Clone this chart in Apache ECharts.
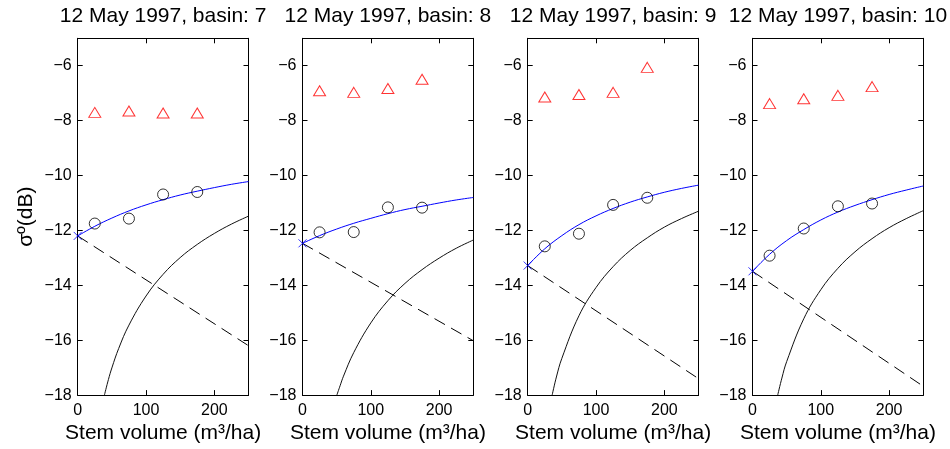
<!DOCTYPE html>
<html>
<head>
<meta charset="utf-8">
<script src="https://cdn.jsdelivr.net/npm/echarts@6/dist/echarts.min.js"></script>
<style>
html,body{margin:0;padding:0;background:#fff;}
#chart{width:950px;height:449px;}
</style>
</head>
<body>
<div id="chart"></div>
<script>
// ---- data ----
const basins = ['7', '8', '9', '10'];
const stemVolume = [25, 75, 125, 175];

// red triangles (upper observations)
const tri7 = [-7.70, -7.65, -7.72, -7.72];
const tri8 = [-6.91, -6.97, -6.83, -6.49];
const tri9 = [-7.14, -7.05, -6.97, -6.06];
const tri10 = [-7.38, -7.20, -7.08, -6.76];

// black circles (observations)
const circ7 = [-11.75, -11.57, -10.69, -10.60];
const circ8 = [-12.07, -12.06, -11.16, -11.17];
const circ9 = [-12.58, -12.12, -11.07, -10.81];
const circ10 = [-12.92, -11.93, -11.12, -11.02];

// blue fitted curve, sampled at curveX
const curveX = [0, 25, 50, 75, 100, 125, 150, 175, 200, 225, 250];
const blue7 = [-12.20, -11.85, -11.55, -11.29, -11.07, -10.88, -10.71, -10.57, -10.44, -10.32, -10.22];
const blue8 = [-12.47, -12.19, -11.95, -11.74, -11.56, -11.39, -11.24, -11.12, -11.00, -10.89, -10.80];
const blue9 = [-13.28, -12.67, -12.19, -11.79, -11.47, -11.20, -10.97, -10.78, -10.61, -10.47, -10.35];
const blue10 = [-13.49, -12.87, -12.37, -11.97, -11.62, -11.33, -11.09, -10.88, -10.69, -10.53, -10.38];

// dashed line endpoints
const dashX = [0, 250];
const dash7 = [-12.20, -16.20];
const dash8 = [-12.47, -16.02];
const dash9 = [-13.28, -17.40];
const dash10 = [-13.49, -17.68];

// black solid curve
const vegX7 = [39.1, 45, 50, 60, 75, 100, 125, 150, 175, 200, 225, 250];
const veg7 = [-18.0, -17.43, -17.01, -16.30, -15.45, -14.39, -13.60, -12.99, -12.51, -12.11, -11.77, -11.48];
const vegX8 = [50.3, 55, 60, 75, 100, 125, 150, 175, 200, 225, 250];
const veg8 = [-18.0, -17.66, -17.31, -16.45, -15.37, -14.56, -13.93, -13.43, -13.01, -12.65, -12.35];
const vegX9 = [35.8, 42, 50, 75, 100, 125, 150, 175, 200, 225, 250];
const veg9 = [-18.0, -17.34, -16.66, -15.11, -14.08, -13.32, -12.73, -12.27, -11.88, -11.57, -11.30];
const vegX10 = [36.9, 43, 50, 75, 100, 125, 150, 175, 200, 225, 250];
const veg10 = [-18.0, -17.38, -16.78, -15.22, -14.16, -13.38, -12.78, -12.30, -11.90, -11.57, -11.28];

const xTicks = ['0', '100', '200'];
const yTicks = ['-18', '-16', '-14', '-12', '-10', '-8', '-6'];

// ---- build chart ----
const tris = [tri7, tri8, tri9, tri10];
const circs = [circ7, circ8, circ9, circ10];
const blues = [blue7, blue8, blue9, blue10];
const dashes = [dash7, dash8, dash9, dash10];
const vegXs = [vegX7, vegX8, vegX9, vegX10];
const vegs = [veg7, veg8, veg9, veg10];

const FONT = '"Liberation Sans", Arial, Helvetica, sans-serif';
const lefts = [77.7, 302.5, 527.7, 752.5];
const gTop = 38.3, gW = 170.8, gH = 360.2;

const grids = [], xAxes = [], yAxes = [], titles = [], series = [];
const pair = (xs, ys) => xs.map((x, i) => [x, ys[i]]);
const minus = v => String(v).replace('-', '\u2212');

basins.forEach((b, i) => {
  grids.push({left: lefts[i], top: gTop, width: gW, height: gH, containLabel: false});
  titles.push({
    text: '12 May 1997, basin: ' + b,
    left: lefts[i] + gW / 2, top: 6, textAlign: 'center', padding: 0,
    textStyle: {fontFamily: FONT, fontSize: 21, fontWeight: 'normal', color: '#000'}
  });
  const axLine = {show: true, onZero: false, lineStyle: {color: '#000', width: 1}};
  const tick = {show: true, inside: true, length: 5, lineStyle: {color: '#000', width: 1}};
  xAxes.push({
    type: 'value', gridIndex: i, position: 'bottom', min: 0, max: 250, interval: 100,
    axisLine: axLine, axisTick: tick, splitLine: {show: false},
    axisLabel: {show: true, showMaxLabel: false, margin: 7, fontFamily: FONT, fontSize: 16, color: '#000',
      formatter: v => xTicks.includes(String(v)) ? String(v) : ''},
    name: 'Stem volume (m\u00B3/ha)', nameLocation: 'middle', nameGap: 24,
    nameTextStyle: {fontFamily: FONT, fontSize: 21, color: '#000'}
  });
  xAxes.push({
    type: 'value', gridIndex: i, position: 'top', min: 0, max: 250, interval: 100,
    axisLine: axLine, axisTick: tick, splitLine: {show: false}, axisLabel: {show: false}
  });
  const yMain = {
    type: 'value', gridIndex: i, position: 'left', min: -18, max: -5, interval: 2,
    axisLine: axLine, axisTick: tick, splitLine: {show: false},
    axisLabel: {show: true, showMaxLabel: false, margin: 6, fontFamily: FONT, fontSize: 16, color: '#000',
      formatter: v => yTicks.includes(String(v)) ? minus(v) : ''}
  };
  if (i === 0) {
    yMain.name = '\u03C3\u00BA(dB)';
    yMain.nameLocation = 'middle';
    yMain.nameGap = 41;
    yMain.nameTextStyle = {fontFamily: FONT, fontSize: 21, color: '#000'};
  }
  yAxes.push(yMain);
  yAxes.push({
    type: 'value', gridIndex: i, position: 'right', min: -18, max: -5, interval: 2,
    axisLine: axLine, axisTick: tick, splitLine: {show: false}, axisLabel: {show: false}
  });

  const xi = 2 * i, yi = 2 * i;
  series.push({
    type: 'line', xAxisIndex: xi, yAxisIndex: yi, data: pair(dashX, dashes[i]),
    showSymbol: false, silent: true, lineStyle: {color: '#000', width: 1, type: [12, 7]}, z: 2
  });
  series.push({
    type: 'line', xAxisIndex: xi, yAxisIndex: yi, data: pair(vegXs[i], vegs[i]),
    showSymbol: false, smooth: 0.4, silent: true,
    lineStyle: {color: '#111', width: 1}, z: 2
  });
  series.push({
    type: 'line', xAxisIndex: xi, yAxisIndex: yi, data: pair(curveX, blues[i]),
    showSymbol: false, smooth: 0.4, silent: true,
    lineStyle: {color: '#0000ff', width: 1}, z: 3
  });
  series.push({
    type: 'scatter', xAxisIndex: xi, yAxisIndex: yi, data: [[curveX[0], blues[i][0]]],
    symbol: 'path://M0,0L10,10M10,0L0,10', symbolSize: 8,
    itemStyle: {color: 'rgba(0,0,0,0)', borderColor: '#0000ff', borderWidth: 1}, z: 4
  });
  series.push({
    type: 'scatter', xAxisIndex: xi, yAxisIndex: yi, data: pair(stemVolume, circs[i]),
    symbol: 'circle', symbolSize: 11,
    itemStyle: {color: 'rgba(0,0,0,0)', borderColor: '#000', borderWidth: 1}, z: 5
  });
  series.push({
    type: 'scatter', xAxisIndex: xi, yAxisIndex: yi, data: pair(stemVolume, tris[i]),
    symbol: 'triangle', symbolSize: [12, 10],
    itemStyle: {color: 'rgba(0,0,0,0)', borderColor: '#ff0000', borderWidth: 1}, z: 5
  });
});

const chart = echarts.init(document.getElementById('chart'), null, {renderer: 'canvas'});
chart.setOption({
  animation: false,
  backgroundColor: '#fff',
  title: titles,
  grid: grids,
  xAxis: xAxes,
  yAxis: yAxes,
  series: series
});
</script>
</body>
</html>
